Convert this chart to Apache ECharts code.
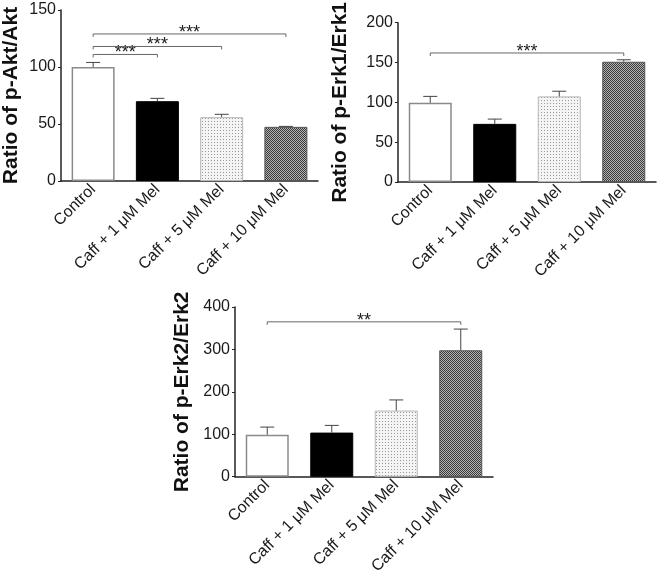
<!DOCTYPE html>
<html>
<head>
<meta charset="utf-8">
<script src="https://cdn.jsdelivr.net/npm/echarts@6/dist/echarts.min.js"></script>
<style>
html,body{margin:0;padding:0;background:#fff;}
#chart{width:657px;height:577px;}
</style>
</head>
<body>
<div id="chart"></div>
<script>
// ---- data ----
const categories = ['Control', 'Caff + 1 μM Mel', 'Caff + 5 μM Mel', 'Caff + 10 μM Mel'];
const aktMean = [100, 70, 56, 47.5];
const aktErr = [4, 2.5, 2.5, 0.4];
const erk1Mean = [99.5, 73, 107.5, 151];
const erk1Err = [8, 6, 6.5, 2.5];
const erk2Mean = [99, 104, 156, 298];
const erk2Err = [18, 17, 25, 50];
// significance: [fromIndex, toIndex, yValue, label]
const aktSig = [[0, 1, 111, '***'], [0, 2, 118, '***'], [0, 3, 129, '***']];
const erk1Sig = [[0, 3, 162, '***']];
const erk2Sig = [[0, 3, 365, '**']];
const aktTicks = {max: 150, interval: 50};
const erk1Ticks = {max: 200, interval: 50};
const erk2Ticks = {max: 400, interval: 100};
const titles = ['Ratio of p-Akt/Akt', 'Ratio of p-Erk1/Erk1', 'Ratio of p-Erk2/Erk2'];

// ---- patterns ----
function dotPattern() {
  const c = document.createElement('canvas'); c.width = 3; c.height = 3;
  const g = c.getContext('2d');
  g.fillStyle = '#f4f4f4'; g.fillRect(0, 0, 3, 3);
  g.fillStyle = '#9a9a9a'; g.fillRect(1, 1, 1, 1);
  return c;
}
function checkPattern() {
  const c = document.createElement('canvas'); c.width = 2; c.height = 2;
  const g = c.getContext('2d');
  g.fillStyle = '#b4b4b4'; g.fillRect(0, 0, 2, 2);
  g.fillStyle = '#3a3a3a'; g.fillRect(0, 0, 1, 1); g.fillRect(1, 1, 1, 1);
  return c;
}
const barStyles = [
  {color: '#ffffff', borderColor: '#8a8a8a', borderWidth: 1.5},
  {color: '#000000', borderColor: '#000000', borderWidth: 1},
  {color: {image: dotPattern(), repeat: 'repeat'}, borderColor: '#b8b8b8', borderWidth: 1},
  {color: {image: checkPattern(), repeat: 'repeat'}, borderColor: '#555555', borderWidth: 1}
];

const FONT = 'Arial, "Liberation Sans", sans-serif';
const grids = [
  {left: 58, top: 10, width: 260, height: 171},
  {left: 398, top: 10, width: 258, height: 172},
  {left: 235, top: 307, width: 258, height: 172}
];
const nameGaps = [39, 47, 42];
const ticks = [aktTicks, erk1Ticks, erk2Ticks];
const means = [aktMean, erk1Mean, erk2Mean];
const errs = [aktErr, erk1Err, erk2Err];
const sigs = [aktSig, erk1Sig, erk2Sig];

const option = {
  animation: false,
  grid: grids,
  xAxis: grids.map((g, i) => ({
    type: 'category', gridIndex: i, data: categories,
    axisLine: {lineStyle: {color: '#222', width: 1.5}},
    axisTick: {show: false},
    axisLabel: {rotate: 45, fontSize: 16, color: '#1a1a1a', fontFamily: FONT, margin: 6, interval: 0}
  })),
  yAxis: grids.map((g, i) => ({
    type: 'value', gridIndex: i, min: 0, max: ticks[i].max, interval: ticks[i].interval,
    name: titles[i], nameLocation: 'middle', nameGap: nameGaps[i],
    nameTextStyle: {fontSize: 21, fontWeight: 'bold', color: '#111', fontFamily: FONT},
    axisLine: {show: true, lineStyle: {color: '#222', width: 1.5}},
    axisTick: {show: true, length: 3, lineStyle: {color: '#222'}},
    axisLabel: {fontSize: 16, color: '#1a1a1a', fontFamily: FONT, margin: 5},
    splitLine: {show: false}
  })),
  series: []
};

means.forEach((m, i) => {
  option.series.push({
    type: 'bar', xAxisIndex: i, yAxisIndex: i, barWidth: 43,
    data: m.map((v, k) => ({value: v, itemStyle: barStyles[k]})),
    z: 2
  });
  const e = errs[i];
  option.series.push({
    type: 'custom', xAxisIndex: i, yAxisIndex: i, z: 3,
    encode: {x: 0, y: [1, 2]},
    data: m.map((v, k) => [k, v, v + e[k]]),
    renderItem: function (params, api) {
      const base = api.coord([api.value(0), api.value(1)]);
      const top = api.coord([api.value(0), api.value(2)]);
      const hw = 7;
      return {
        type: 'group', children: [
          {type: 'line', shape: {x1: base[0], y1: base[1], x2: top[0], y2: top[1]}, style: {stroke: '#444', lineWidth: 1}},
          {type: 'line', shape: {x1: top[0] - hw, y1: top[1], x2: top[0] + hw, y2: top[1]}, style: {stroke: '#444', lineWidth: 1}}
        ]
      };
    }
  });
  const sig = sigs[i];
  option.series.push({
    type: 'custom', xAxisIndex: i, yAxisIndex: i, z: 4,
    encode: {x: [0, 1], y: 2},
    data: sig.map(s => [s[0], s[1], s[2]]),
    renderItem: function (params, api) {
      const s = sig[params.dataIndex];
      const p1 = api.coord([s[0], s[2]]);
      const p2 = api.coord([s[1], s[2]]);
      return {
        type: 'group', children: [
          {type: 'polyline', shape: {points: [[p1[0], p1[1] + 3], [p1[0], p1[1]], [p2[0], p2[1]], [p2[0], p2[1] + 3]]},
            style: {stroke: '#666', lineWidth: 1, fill: null}},
          {type: 'text', style: {text: s[3], x: (p1[0] + p2[0]) / 2, y: p1[1] - 1, align: 'center', verticalAlign: 'middle',
            fontSize: 18, fontFamily: FONT, fill: '#222'}}
        ]
      };
    }
  });
});

const chart = echarts.init(document.getElementById('chart'), null, {renderer: 'canvas'});
chart.setOption(option);
</script>
</body>
</html>
